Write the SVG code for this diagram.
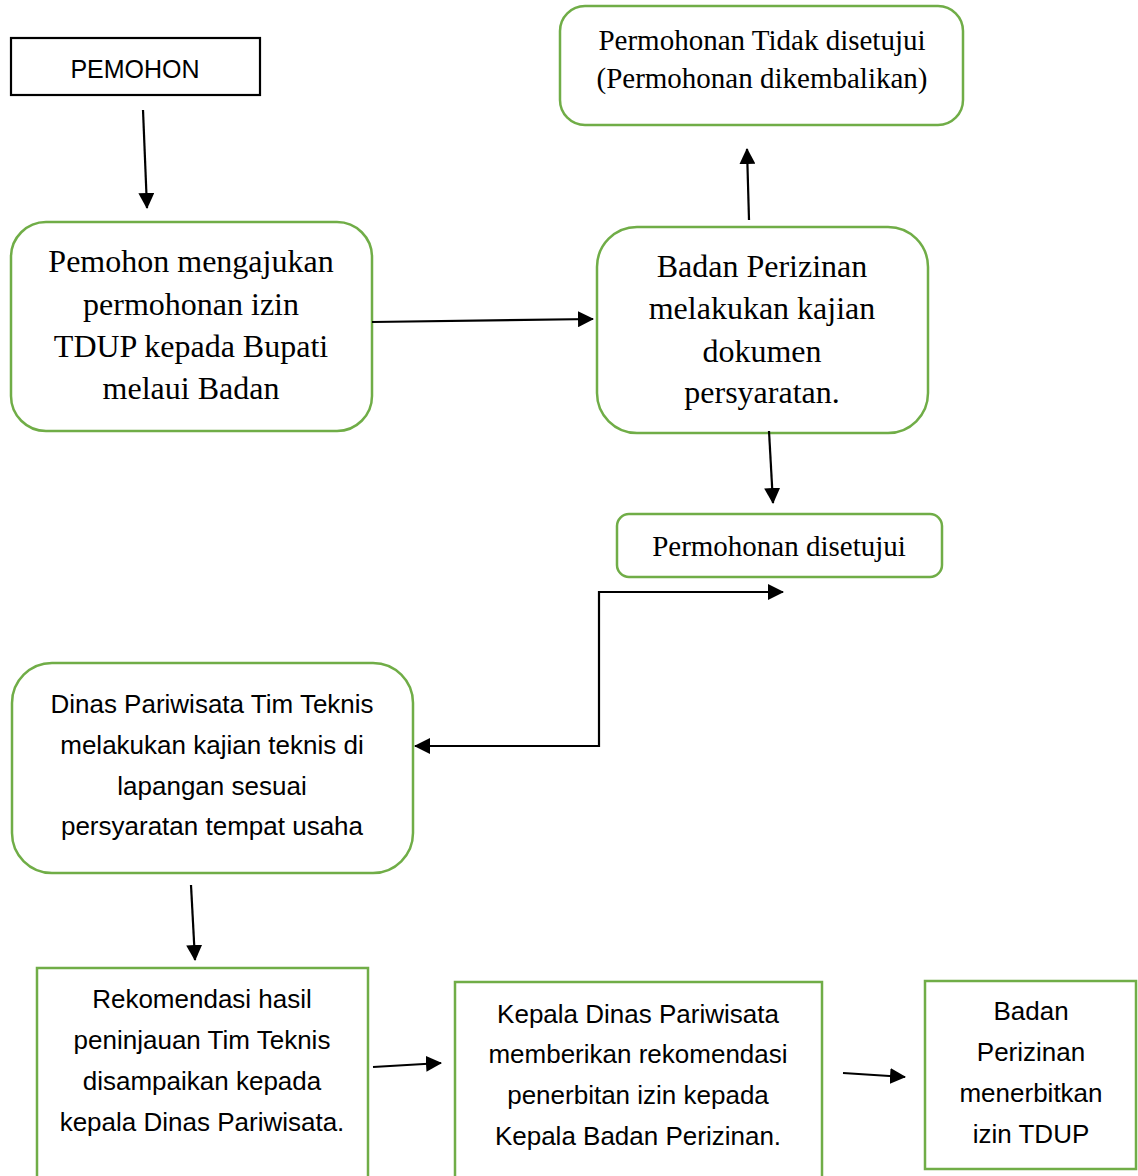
<svg xmlns="http://www.w3.org/2000/svg" width="1138" height="1176" viewBox="0 0 1138 1176">
<style>
.g{fill:#fff;stroke:#70AD47;stroke-width:2.5}
.k{fill:#fff;stroke:#000;stroke-width:2.2}
.serif{font-family:"Liberation Serif","Times New Roman",serif;fill:#000;text-anchor:middle}
.sans{font-family:"Liberation Sans",Arial,sans-serif;fill:#000;text-anchor:middle;font-size:26px}
.c{fill:none;stroke:#000;stroke-width:2.2}
</style>
<defs>
<marker id="ah" viewBox="0 0 16 16" refX="15" refY="8" markerWidth="16" markerHeight="16" markerUnits="userSpaceOnUse" orient="auto-start-reverse">
<path d="M0,0 L16,8 L0,16 Z" fill="#000"/>
</marker>
</defs>
<rect width="1138" height="1176" fill="#fff"/>
<g id="pemohon">
<rect class="k" x="11" y="38" width="249" height="57"/>
<text class="sans" x="135" y="78" style="font-size:25px">PEMOHON</text>
</g>
<g id="mengajukan">
<rect class="g" x="11" y="222" width="361" height="209" rx="35"/>
<text class="serif" font-size="32" x="191" y="272">Pemohon mengajukan</text>
<text class="serif" font-size="32" x="191" y="315">permohonan izin</text>
<text class="serif" font-size="32" x="191" y="357">TDUP kepada Bupati</text>
<text class="serif" font-size="32" x="191" y="399">melaui Badan</text>
</g>
<g id="tidak">
<rect class="g" x="560" y="6" width="403" height="119" rx="25"/>
<text class="serif" font-size="29" x="762" y="50">Permohonan Tidak disetujui</text>
<text class="serif" font-size="29" x="762" y="88">(Permohonan dikembalikan)</text>
</g>
<g id="kajian">
<rect class="g" x="597" y="227" width="331" height="206" rx="40"/>
<text class="serif" font-size="32" x="762" y="277">Badan Perizinan</text>
<text class="serif" font-size="32" x="762" y="319">melakukan kajian</text>
<text class="serif" font-size="32" x="762" y="362">dokumen</text>
<text class="serif" font-size="32" x="762" y="403">persyaratan.</text>
</g>
<g id="disetujui">
<rect class="g" x="617" y="514" width="325" height="63" rx="12"/>
<text class="serif" font-size="29" x="779" y="556">Permohonan disetujui</text>
</g>
<g id="dinas">
<rect class="g" x="12" y="663" width="401" height="210" rx="40"/>
<text class="sans" x="212" y="713">Dinas Pariwisata Tim Teknis</text>
<text class="sans" x="212" y="754">melakukan kajian teknis di</text>
<text class="sans" x="212" y="795">lapangan sesuai</text>
<text class="sans" x="212" y="835">persyaratan tempat usaha</text>
</g>
<g id="rekomendasi">
<rect class="g" x="37" y="968" width="331" height="220"/>
<text class="sans" x="202" y="1008">Rekomendasi hasil</text>
<text class="sans" x="202" y="1049">peninjauan Tim Teknis</text>
<text class="sans" x="202" y="1090">disampaikan kepada</text>
<text class="sans" x="202" y="1131">kepala Dinas Pariwisata.</text>
</g>
<g id="kepala">
<rect class="g" x="455" y="982" width="367" height="210"/>
<text class="sans" x="638" y="1023">Kepala Dinas Pariwisata</text>
<text class="sans" x="638" y="1063">memberikan rekomendasi</text>
<text class="sans" x="638" y="1104">penerbitan izin kepada</text>
<text class="sans" x="638" y="1145">Kepala Badan Perizinan.</text>
</g>
<g id="terbit">
<rect class="g" x="925" y="981" width="211" height="188"/>
<text class="sans" x="1031" y="1020">Badan</text>
<text class="sans" x="1031" y="1061">Perizinan</text>
<text class="sans" x="1031" y="1102">menerbitkan</text>
<text class="sans" x="1031" y="1143">izin TDUP</text>
</g>
<g id="connectors">
<path class="c" d="M143,110 L147,208" marker-end="url(#ah)"/>
<path class="c" d="M372,322 L593,319" marker-end="url(#ah)"/>
<path class="c" d="M749,220 L747,149" marker-end="url(#ah)"/>
<path class="c" d="M769,431 L773,503" marker-end="url(#ah)"/>
<path class="c" d="M415,746 H599 V592 H783" marker-start="url(#ah)" marker-end="url(#ah)"/>
<path class="c" d="M191,885 L195,960" marker-end="url(#ah)"/>
<path class="c" d="M373,1067 L441,1063" marker-end="url(#ah)"/>
<path class="c" d="M843,1073 L905,1077" marker-end="url(#ah)"/>
</g>
</svg>
